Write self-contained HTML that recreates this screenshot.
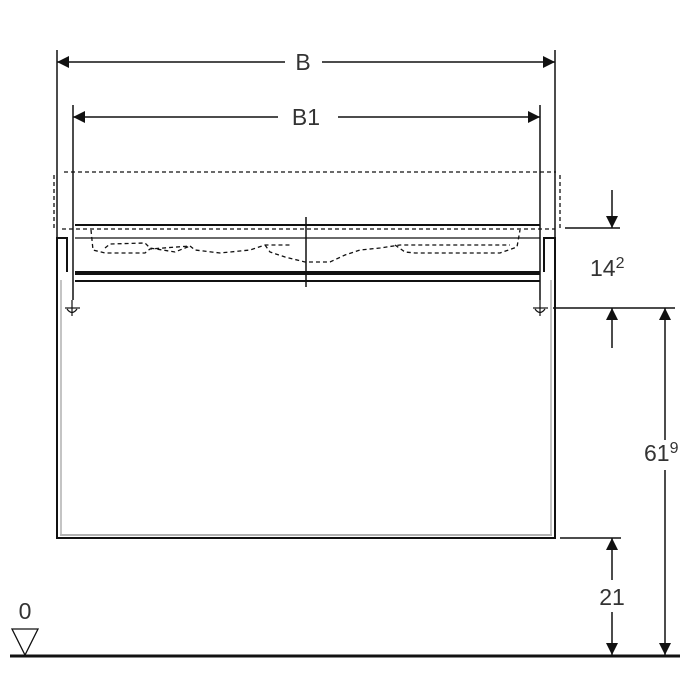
<!DOCTYPE html>
<html><head><style>body{margin:0;background:#fff}svg{display:block}text{font-family:"Liberation Sans",sans-serif;fill:#333}</style></head><body>
<svg width="700" height="700" viewBox="0 0 700 700" xmlns="http://www.w3.org/2000/svg">
<defs>
<marker id="a" viewBox="0 0 10 10" refX="10" refY="5" markerWidth="19" markerHeight="12" markerUnits="userSpaceOnUse" orient="auto"><path d="M0,0L10,5L0,10z" fill="#111"/></marker>
</defs>
<g stroke="#111" fill="none">
<line x1="57" y1="50" x2="57" y2="238" stroke-width="1.5"/>
<line x1="555" y1="50" x2="555" y2="238" stroke-width="1.5"/>
<line x1="73" y1="105" x2="73" y2="300" stroke-width="1.5"/>
<line x1="540" y1="105" x2="540" y2="300" stroke-width="1.5"/>
<line x1="285" y1="62" x2="57" y2="62" stroke-width="1.5" marker-end="url(#a)"/>
<line x1="322" y1="62" x2="555" y2="62" stroke-width="1.5" marker-end="url(#a)"/>
<line x1="278" y1="117" x2="73" y2="117" stroke-width="1.5" marker-end="url(#a)"/>
<line x1="338" y1="117" x2="540" y2="117" stroke-width="1.5" marker-end="url(#a)"/>
<g stroke-dasharray="4,3" stroke-width="1.3">
<line x1="64" y1="172" x2="556" y2="172"/>
<line x1="54" y1="175" x2="54" y2="230"/>
<line x1="560" y1="175" x2="560" y2="230"/>
<line x1="62" y1="229" x2="555" y2="229"/>
<path d="M91,230 L93,250 L105,253 L145,253 L150,249 L190,246 L195,250 L220,253 L250,250 L265,245 L290,245"/>
<path d="M105,248 L110,244 L145,243 L150,248 L175,252 L190,246"/>
<path d="M265,245 L270,252 L285,257 L305,262 L330,262 L345,255 L360,250 L380,248 L400,245 L510,245"/>
<path d="M395,245 L405,252 L415,253 L500,253 L517,247 L520,230"/>
</g>
<line x1="75" y1="225" x2="540" y2="225" stroke-width="2"/>
<line x1="75" y1="238" x2="540" y2="238" stroke-width="1.2"/>
<line x1="75" y1="273" x2="540" y2="273" stroke-width="4"/>
<line x1="75" y1="281" x2="540" y2="281" stroke-width="2"/>
<line x1="306" y1="217" x2="306" y2="287" stroke-width="1.5"/>
<path d="M67,272 L67,238 L57,238 L57,538 L555,538 L555,238 L544,238 L544,272" stroke-width="2"/>
<line x1="61" y1="280" x2="61" y2="534" stroke-width="1" stroke="#888"/>
<line x1="551" y1="280" x2="551" y2="534" stroke-width="1" stroke="#888"/>
<line x1="60" y1="535" x2="552" y2="535" stroke-width="1.5" stroke="#999"/>
<g stroke-width="1.2"><line x1="65" y1="308" x2="80" y2="308"/><line x1="72" y1="300" x2="72" y2="316"/><path d="M67,309 Q72,316 77,309"/>
<line x1="533" y1="308" x2="548" y2="308"/><line x1="540" y1="300" x2="540" y2="316"/><path d="M535,309 Q540,316 545,309"/></g>
<line x1="565" y1="228" x2="620" y2="228" stroke-width="1.5"/>
<line x1="612" y1="190" x2="612" y2="228" stroke-width="1.5" marker-end="url(#a)"/>
<line x1="553" y1="308" x2="675" y2="308" stroke-width="1.5"/>
<line x1="612" y1="348" x2="612" y2="308" stroke-width="1.5" marker-end="url(#a)"/>
<line x1="665" y1="440" x2="665" y2="308" stroke-width="1.5" marker-end="url(#a)"/>
<line x1="665" y1="470" x2="665" y2="655" stroke-width="1.5" marker-end="url(#a)"/>
<line x1="560" y1="538" x2="621" y2="538" stroke-width="1.5"/>
<line x1="612" y1="580" x2="612" y2="538" stroke-width="1.5" marker-end="url(#a)"/>
<line x1="612" y1="612" x2="612" y2="655" stroke-width="1.5" marker-end="url(#a)"/>
<line x1="10" y1="656" x2="680" y2="656" stroke-width="3"/>
<path d="M12,629 L38,629 L25,655 Z" stroke-width="1.3"/>
</g>
<text x="303" y="70" font-size="23" text-anchor="middle">B</text>
<text x="306" y="125" font-size="23" text-anchor="middle">B1</text>
<text x="590" y="276" font-size="23">14<tspan font-size="16" dy="-8">2</tspan></text>
<text x="644" y="461" font-size="23">61<tspan font-size="16" dy="-8">9</tspan></text>
<text x="612" y="605" font-size="23" text-anchor="middle">21</text>
<text x="25" y="619" font-size="23" text-anchor="middle">0</text>
</svg>
</body></html>
